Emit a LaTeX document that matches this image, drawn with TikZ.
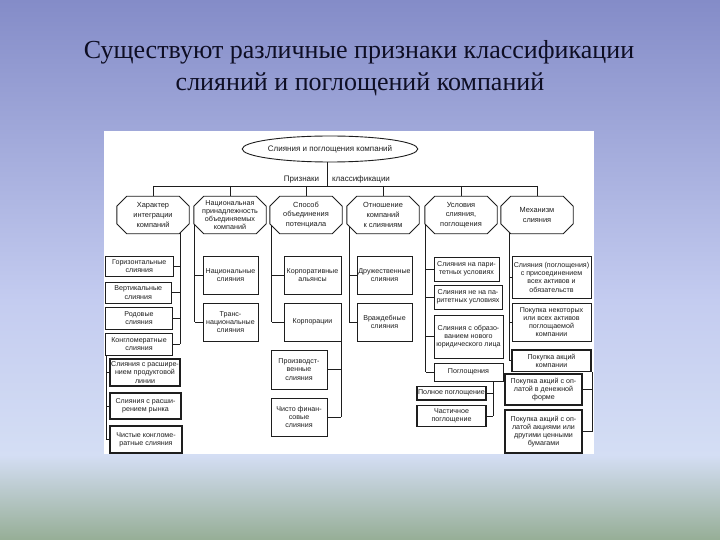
\documentclass[tikz,border=0pt]{standalone}
\usepackage{fontspec}
\setmainfont{Liberation Serif}
\newfontfamily\diafont{Liberation Sans}
\usetikzlibrary{shapes.geometric,calc}
\definecolor{bgA}{RGB}{132,140,200}
\definecolor{bgB}{RGB}{196,204,240}
\definecolor{bgC}{RGB}{212,222,244}
\definecolor{bgD}{RGB}{150,174,150}
\definecolor{titleC}{RGB}{14,14,36}
\definecolor{inkC}{RGB}{30,30,30}
\begin{document}
\begin{tikzpicture}[x=1pt,y=-1pt,
  ln/.style={draw=inkC, line width=0.8pt},
  bx/.style={draw=inkC, line width=0.9pt, fill=white, inner sep=0pt, align=center,
     font=\diafont\fontsize{7.1}{8.2}\selectfont, text=inkC},
  tk/.style={line width=1.4pt},
  oct/.style={inner sep=0pt, minimum width=72pt, minimum height=37pt, align=center,
     font=\diafont\fontsize{7.4}{9.8}\selectfont, text=inkC},
  lab/.style={inner sep=0pt, font=\diafont\fontsize{8}{9}\selectfont, text=inkC}
]
\useasboundingbox (0,0) rectangle (720,540);
% background
\shade[top color=bgA, bottom color=bgB] (0,0) rectangle (720,300.5);
\shade[top color=bgB, bottom color=bgC] (0,300) rectangle (720,455.5);
\shade[top color=bgC, bottom color=bgD] (0,455) rectangle (720,540);
% title
\node[anchor=base, inner sep=0pt, font=\fontsize{26}{30}\selectfont, text=titleC] (t1) at (359,59) {Существуют различные признаки классификации};
\node[anchor=base, inner sep=0pt, font=\fontsize{26}{30}\selectfont, text=titleC] (t2) at (360,91) {слияний и поглощений компаний};
% white panel
\fill[white] (104,131) rectangle (594,454);
% root
\node[ellipse, draw=inkC, line width=0.9pt, minimum width=152pt, minimum height=26pt, inner sep=0pt,
      font=\diafont\fontsize{8}{9}\selectfont, text=inkC] (e) at (330,149) {Слияния и поглощения компаний};
\node[lab] (l1) at (301.5,179.5) {Признаки};
\node[lab] (l2) at (361,179.5) {классификации};
% octagons
\node[oct] (o1) at (153,215) {Характер\\интеграции\\компаний};
\node[oct, font=\diafont\fontsize{7.2}{8}\selectfont] (o2) at (230,215) {Национальная\\принадлежность\\объединяемых\\компаний};
\node[oct] (o3) at (306,215) {Способ\\объединения\\потенциала};
\node[oct] (o4) at (383,215) {Отношение\\компаний\\к слияниям};
\node[oct] (o5) at (461,215) {Условия\\слияния,\\поглощения};
\node[oct] (o6) at (537,215) {Механизм\\слияния};
\foreach \o in {o1,o2,o3,o4,o5,o6}{
  \draw[ln, line width=0.9pt] ($(\o.north west)+(10,0)$) -- ($(\o.north east)+(-10,0)$) -- ($(\o.north east)+(0,10)$)
    -- ($(\o.south east)+(0,-10)$) -- ($(\o.south east)+(-10,0)$) -- ($(\o.south west)+(10,0)$)
    -- ($(\o.south west)+(0,-10)$) -- ($(\o.north west)+(0,10)$) -- cycle;
}
% bus
\coordinate (B) at (327,186);
\draw[ln] (B |- e.south) -- (B);
\draw[ln] (B -| o1.north) -- (B -| o6.north);
\foreach \o in {o1,o2,o3,o4,o5,o6}{ \draw[ln] (B -| \o.north) -- (\o.north); }
% column 1
\node[bx, minimum width=67.4pt, minimum height=20pt] (h1) at (139.3,266) {Горизонтальные\\слияния};
\node[bx, minimum width=65.4pt, minimum height=21pt] (h2) at (138.3,292.5) {Вертикальные\\слияния};
\node[bx, minimum width=67pt, minimum height=21.5pt] (h3) at (139,318.2) {Родовые\\слияния};
\node[bx, minimum width=67pt, minimum height=22pt] (h4) at (139,344) {Конгломератные\\слияния};
\node[bx, tk, minimum width=70pt, minimum height=27pt] (s1) at (145,372.5) {Слияния с расшире-\\нием продуктовой\\линии};
\node[bx, tk, minimum width=71pt, minimum height=26pt] (s2) at (145.5,406) {Слияния с расши-\\рением рынка};
\node[bx, tk, minimum width=72pt, minimum height=27pt] (s3) at (146,439.5) {Чистые конгломе-\\ратные слияния};
\coordinate (T1) at ($(o1.south east)+(-9,-1)$);
\draw[ln] (T1) -- (T1 |- h4.east);
\foreach \b in {h1,h2,h3,h4}{ \draw[ln] (\b.east) -- (\b.east -| T1); }
\coordinate (S) at ($(h4.south west)+(1,0)$);
\draw[ln] (S) -- (S |- s3.west);
\foreach \b in {s1,s2,s3}{ \draw[ln] (\b.west) -- (\b.west -| S); }
% column 2
\node[bx, minimum width=55pt, minimum height=38.5pt] (n1) at (230.5,275.2) {Национальные\\слияния};
\node[bx, minimum width=55pt, minimum height=38pt] (n2) at (230.5,322) {Транс-\\национальные\\слияния};
\coordinate (T2) at ($(o2.south west)+(1,-9)$);
\draw[ln] (T2) -- (T2 |- n2.west);
\foreach \b in {n1,n2}{ \draw[ln] (\b.west) -- (\b.west -| T2); }
% column 3
\node[bx, minimum width=57pt, minimum height=38pt] (c1) at (312.5,275) {Корпоративные\\альянсы};
\node[bx, minimum width=57pt, minimum height=38pt] (c2) at (312.5,322) {Корпорации};
\node[bx, minimum width=56pt, minimum height=39pt] (p1) at (299,369.5) {Производст-\\венные\\слияния};
\node[bx, minimum width=56pt, minimum height=38pt] (p2) at (299,417) {Чисто финан-\\совые\\слияния};
\coordinate (T3) at ($(o3.south west)+(2,-8)$);
\draw[ln] (T3) -- (T3 |- c2.west);
\foreach \b in {c1,c2}{ \draw[ln] (\b.west) -- (\b.west -| T3); }
\coordinate (P) at (c2.south east);
\draw[ln] (P) -- (P |- p2.east);
\foreach \b in {p1,p2}{ \draw[ln] (\b.east) -- (\b.east -| P); }
% column 4
\node[bx, minimum width=55pt, minimum height=38pt] (d1) at (384.5,275) {Дружественные\\слияния};
\node[bx, minimum width=55pt, minimum height=38pt] (d2) at (384.5,322) {Враждебные\\слияния};
\coordinate (T4) at ($(o4.south west)+(2.5,-7.5)$);
\draw[ln] (T4) -- (T4 |- d2.west);
\foreach \b in {d1,d2}{ \draw[ln] (\b.west) -- (\b.west -| T4); }
% column 5
\node[bx, minimum width=65pt, minimum height=24pt] (u1) at (466.5,269) {Слияния на пари-\\тетных условиях};
\node[bx, minimum width=68pt, minimum height=24pt] (u2) at (468,297) {Слияния не на па-\\ритетных условиях};
\node[bx, minimum width=69pt, minimum height=43pt] (u3) at (468.5,336.5) {Слияния с образо-\\ванием нового\\юридического лица};
\node[bx, minimum width=69pt, minimum height=18pt] (u4) at (468.5,372) {Поглощения};
\node[bx, tk, minimum width=69pt, minimum height=13.5pt] (v1) at (451.5,393.2) {Полное поглощение};
\node[bx, tk, minimum width=69pt, minimum height=21pt] (v2) at (451.5,416) {Частичное\\поглощение};
\coordinate (T5) at ($(o5.south west)+(1,-9)$);
\draw[ln] (T5) -- (T5 |- u4.west);
\foreach \b in {u1,u2,u3,u4}{ \draw[ln] (\b.west) -- (\b.west -| T5); }
\coordinate (V) at ($(u4.south east)+(-10,0)$);
\draw[ln] (V) -- (V |- v2.east);
\foreach \b in {v1,v2}{ \draw[ln] (\b.east) -- (\b.east -| V); }
% column 6
\node[bx, minimum width=79pt, minimum height=41.5pt] (m1) at (551.5,277.2) {Слияния (поглощения)\\с присоединением\\всех активов и\\обязательств};
\node[bx, minimum width=79pt, minimum height=38.5pt] (m2) at (551.5,322.2) {Покупка некоторых\\или всех активов\\поглощаемой\\компании};
\node[bx, tk, minimum width=79pt, minimum height=21.5pt] (m3) at (551.5,360.7) {Покупка акций\\компании};
\node[bx, tk, minimum width=77pt, minimum height=31pt] (r1) at (543.5,389.5) {Покупка акций с оп-\\латой в денежной\\форме};
\node[bx, tk, minimum width=77pt, minimum height=43pt] (r2) at (543.5,431.5) {Покупка акций с оп-\\латой акциями или\\другими ценными\\бумагами};
\coordinate (T6) at ($(o6.south west)+(8.5,-1.5)$);
\draw[ln] (T6) -- (T6 |- m3.west);
\foreach \b in {m1,m2,m3}{ \draw[ln] (\b.west) -- (\b.west -| T6); }
\coordinate (R) at ($(m3.south east)+(0.5,0)$);
\draw[ln] (R) -- (R |- r2.east);
\foreach \b in {r1,r2}{ \draw[ln] (\b.east) -- (\b.east -| R); }
\end{tikzpicture}
\end{document}
